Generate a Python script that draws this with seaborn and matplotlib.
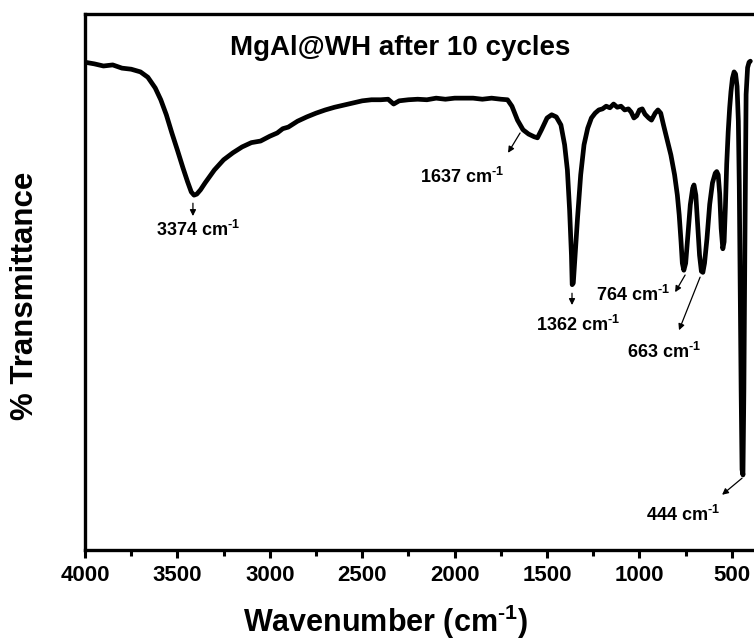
import matplotlib
matplotlib.use("Agg")
import matplotlib.pyplot as plt
from matplotlib.ticker import MultipleLocator
import seaborn as sns
import pandas as pd

# FTIR spectrum (wavenumber cm-1, % transmittance, arbitrary scale)
wavenumber = [4000, 3950, 3900, 3850, 3800, 3750, 3700, 3660, 3620, 3590,
              3560, 3530, 3500, 3470, 3445, 3425, 3410, 3395, 3375, 3350,
              3300, 3250, 3200, 3150, 3100, 3050, 3000, 2960, 2930, 2900,
              2850, 2800, 2750, 2700, 2650, 2600, 2550, 2500, 2450, 2400,
              2360, 2330, 2300, 2250, 2200, 2150, 2100, 2050, 2000, 1950,
              1900, 1850, 1800, 1750, 1714, 1690, 1660, 1630, 1600, 1570,
              1552, 1530, 1500, 1475, 1450, 1425, 1405, 1390, 1378, 1368,
              1364, 1358, 1350, 1335, 1318, 1300, 1280, 1260, 1240, 1220,
              1200, 1180, 1160, 1140, 1120, 1100, 1080, 1060, 1045, 1030,
              1015, 1000, 985, 970, 950, 935, 915, 900, 885, 870,
              850, 830, 810, 795, 785, 775, 768, 760, 750, 740,
              725, 712, 705, 695, 685, 675, 665, 657, 648, 635,
              620, 605, 590, 582, 574, 566, 558, 549, 542, 535,
              528, 520, 512, 505, 497, 488, 480, 472, 465, 460,
              455, 450, 445, 440, 435, 430, 423, 415, 407, 400]
transmittance = [91.0, 90.7, 90.3, 90.5, 89.9, 89.7, 89.2, 88.2, 86.2, 84.0,
                 81.2, 77.8, 74.6, 71.3, 68.7, 66.8, 66.2, 66.4, 67.2, 68.5,
                 70.9, 72.8, 74.1, 75.2, 76.0, 76.3, 77.2, 77.8, 78.6, 78.9,
                 80.0, 80.8, 81.5, 82.1, 82.6, 83.0, 83.4, 83.8, 84.0, 84.0,
                 84.1, 83.2, 83.8, 84.0, 84.1, 84.0, 84.3, 84.1, 84.3, 84.3,
                 84.3, 84.1, 84.3, 84.1, 84.0, 82.8, 80.2, 78.4, 77.6, 77.1,
                 76.9, 78.4, 80.6, 81.2, 80.8, 79.3, 75.6, 70.9, 63.4, 55.0,
                 49.5, 49.8, 54.0, 62.0, 70.0, 75.6, 78.7, 80.6, 81.5, 82.1,
                 82.3, 82.8, 82.5, 83.2, 82.6, 82.8, 82.1, 82.3, 81.7, 80.6,
                 81.0, 82.1, 82.3, 81.3, 80.6, 80.2, 81.5, 82.1, 81.5, 79.3,
                 76.5, 73.7, 70.0, 66.2, 62.5, 57.5, 53.5, 52.2, 53.5, 57.8,
                 64.4, 67.5, 68.1, 66.2, 60.6, 55.0, 52.0, 51.8, 53.5, 58.0,
                 64.5, 68.5, 70.3, 70.6, 70.0, 66.5, 60.0, 56.2, 57.5, 64.0,
                 72.0, 78.0, 82.5, 85.5, 88.0, 89.2, 88.8, 86.5, 80.0, 68.0,
                 50.0, 30.0, 15.0, 14.0, 30.0, 55.0, 85.0, 90.0, 91.0, 91.2]

peak_labels = ["3374", "1637", "1362", "764", "663", "444"]
# arrow tail, arrow head and label centre, in (wavenumber, transmittance)
arrow_tail = [(3416, 64.7), (1646, 77.8), (1365, 47.9), (753, 51.3), (672, 50.9), (445, 13.4)]
arrow_head = [(3416, 62.3), (1711, 74.1), (1365, 45.7), (807, 48.1), (786, 41.0), (553, 10.3)]
label_pos = [(3389, 59.7), (1960, 69.6), (1332, 42.0), (1035, 47.6), (867, 36.9), (764, 6.5)]

df = pd.DataFrame({"wn": wavenumber, "T": transmittance})

sns.set_style("ticks")
plt.rcParams["font.family"] = ["Liberation Sans", "DejaVu Sans"]
plt.rcParams["font.weight"] = "bold"
plt.rcParams["text.color"] = "black"
plt.rcParams["axes.labelcolor"] = "black"
plt.rcParams["xtick.color"] = "black"
plt.rcParams["mathtext.fontset"] = "custom"
plt.rcParams["mathtext.rm"] = "Liberation Sans:bold"
plt.rcParams["mathtext.bf"] = "Liberation Sans:bold"
plt.rcParams["mathtext.default"] = "bf"

fig = plt.figure(figsize=(7.54, 6.4), dpi=100)
ax = fig.add_axes([85 / 754, 1 - 550 / 640, 674.6 / 754, 536 / 640])

sns.lineplot(data=df, x="wn", y="T", ax=ax, color="black", linewidth=3.4,
             estimator=None, sort=True)

ax.set_xlim(4000, 350)
ax.set_ylim(0, 100)
ax.xaxis.set_major_locator(MultipleLocator(500))
ax.xaxis.set_minor_locator(MultipleLocator(250))
ax.tick_params(axis="x", which="major", length=5.5, width=2.2, direction="out",
               labelsize=16, pad=5)
ax.tick_params(axis="x", which="minor", length=4, width=2.2, direction="out")
ax.set_yticks([])
for lab in ax.get_xticklabels():
    lab.set_fontweight("bold")
for sp in ax.spines.values():
    sp.set_linewidth(2.4)
    sp.set_color("black")

ax.set_xlabel("Wavenumber (cm$^{\\text{-1}}$)", fontsize=22, fontweight="bold")
ax.set_ylabel("% Transmittance", fontsize=22.5, fontweight="bold")
ax.xaxis.set_label_coords(0.445, -0.098)
ax.yaxis.set_label_coords(-0.066, 0.474)

ax.text(0.467, 0.937, "MgAl@WH after 10 cycles", transform=ax.transAxes,
        ha="center", va="center", fontsize=20, fontweight="bold")

for lab, tail, head, pos in zip(peak_labels, arrow_tail, arrow_head, label_pos):
    ax.annotate("", xy=head, xytext=tail,
                arrowprops=dict(arrowstyle="-|>", color="black", lw=0.9,
                                mutation_scale=9, shrinkA=0, shrinkB=0))
    ax.text(pos[0], pos[1], lab + " cm$^{\\text{-1}}$", ha="center", va="center",
            fontsize=13, fontweight="bold")

fig.savefig("out.png", dpi=100)
